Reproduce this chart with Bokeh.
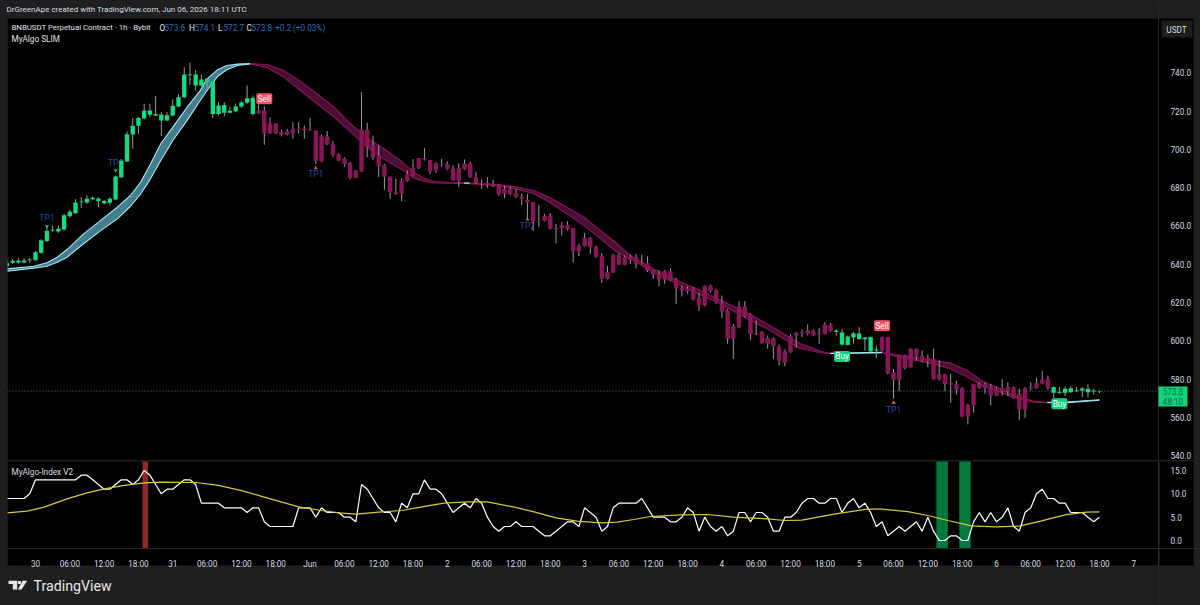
from bokeh.plotting import figure
from bokeh.layouts import column
from bokeh.models import (Range1d, Label, BoxAnnotation, PolyAnnotation, FixedTicker, LinearAxis)
from bokeh.core.properties import value
from bokeh.embed import file_html
from bokeh.resources import INLINE

FONT = "Roboto"
hours = list(range(-5, 187))
body_hi = [640.8,641.8,641.8,642.0,642.5,646.3,652.6,657.5,658.0,658.5,665.6,667.4,672.3,672.8,674.2,674.7,674.3,673.1,674.2,685.8,
694.0,707.9,712.3,716.3,720.1,720.3,718.4,718.2,717.8,722.7,727.2,739.1,739.1,739.1,736.5,736.8,735.4,722.9,723.1,720.1,
722.4,724.5,726.7,726.9,720.3,720.3,713.5,713.5,709.0,709.3,710.5,710.7,710.7,710.2,709.8,706.7,706.7,702.7,697.5,695.2,
692.8,688.8,710.2,710.2,702.0,696.8,691.9,685.8,677.6,683.7,687.0,690.2,695.4,695.4,694.5,692.8,692.6,692.4,689.7,690.2,
692.6,692.8,685.5,682.3,682.3,682.0,681.5,679.4,679.6,677.1,675.4,673.6,672.4,662.9,665.3,665.3,658.9,660.4,660.6,658.9,
649.6,653.8,653.8,649.3,644.2,635.9,644.9,644.9,643.7,643.9,643.7,640.8,640.6,636.8,634.7,636.4,636.4,632.1,627.7,627.4,
627.2,622.3,628.8,628.9,626.5,619.9,615.9,607.5,618.0,618.0,613.8,604.0,604.6,601.4,601.4,597.1,594.5,602.5,604.2,604.6,
605.4,605.4,604.0,608.6,608.6,605.4,604.4,602.3,603.9,603.9,601.8,602.0,595.5,602.0,602.0,583.5,592.7,592.7,595.9,595.9,
592.2,591.0,590.6,582.5,582.6,578.1,577.3,575.2,566.6,577.6,577.3,577.3,576.2,575.3,575.5,575.9,575.9,572.4,575.3,575.9,
578.1,579.9,580.0,575.9,573.4,575.0,575.3,574.1,575.2,575.0,574.1,573.8]
body_lo = [639.0,640.8,640.9,640.9,642.1,642.1,646.0,652.2,657.6,657.1,658.2,665.1,666.7,672.4,672.3,674.0,673.0,671.9,672.1,673.8,
685.5,693.7,707.7,712.3,716.1,718.0,717.7,715.0,715.0,717.7,722.4,727.2,738.7,733.3,733.3,735.2,718.5,718.5,719.1,719.1,
719.9,722.4,724.3,718.5,718.9,708.4,708.4,708.4,707.6,707.6,708.4,710.4,709.8,709.8,693.8,693.8,702.5,697.1,694.2,692.4,
685.1,685.1,688.4,701.1,695.9,691.2,685.7,677.6,676.6,676.8,683.4,686.4,690.2,694.7,688.4,689.0,692.1,689.7,683.7,683.6,
689.8,685.5,682.5,682.0,681.5,681.3,676.4,676.8,676.8,675.2,674.2,672.3,662.5,662.4,662.7,658.5,658.3,658.9,658.3,647.0,
646.8,649.5,649.1,643.9,632.4,632.4,635.5,639.9,639.7,642.5,639.9,640.4,636.8,634.7,632.1,632.1,631.5,627.4,626.3,626.0,
621.6,618.5,618.5,626.0,620.1,615.4,601.1,601.1,607.2,612.9,603.4,603.4,598.8,598.5,597.3,589.8,588.6,594.1,602.8,604.2,
603.7,602.8,603.4,603.7,605.1,604.7,598.1,597.9,601.8,600.9,600.9,594.5,595.0,595.0,583.2,579.7,579.7,585.8,586.3,591.9,
589.3,589.4,580.0,579.9,577.6,577.3,574.6,560.5,560.5,566.3,575.5,575.5,571.5,571.5,573.9,573.9,570.1,564.2,564.2,575.2,
575.3,577.8,575.3,572.9,572.9,572.9,573.2,573.8,574.1,573.2,573.6,573.6]
wick_hi = [642.8,642.7,643.2,643.2,643.2,646.9,653.1,659.4,660.2,660.2,666.3,668.4,674.0,675.0,676.0,675.4,675.0,673.6,675.0,686.3,
694.9,709.5,716.4,716.8,723.8,723.8,727.8,719.4,719.4,726.2,728.6,742.9,745.3,741.5,739.1,737.3,735.4,724.6,724.6,722.4,
723.8,725.2,733.3,728.1,723.8,722.4,716.8,713.7,710.2,710.7,714.2,714.2,712.4,716.4,709.8,707.8,709.5,704.3,698.0,695.9,
693.5,689.3,729.9,713.8,707.2,702.0,692.4,685.8,684.6,685.1,689.0,694.9,695.4,700.8,694.5,693.3,695.0,693.7,691.6,692.8,
694.7,693.7,688.1,684.3,685.5,684.1,682.0,680.8,680.6,679.4,676.8,676.8,672.4,671.0,666.3,666.7,661.1,662.0,662.5,658.9,
650.7,656.4,654.2,649.8,645.8,639.2,645.5,645.8,644.6,645.1,645.5,645.1,644.1,637.1,636.8,637.1,638.1,632.9,628.8,628.4,
628.1,625.1,628.9,629.4,627.2,623.7,616.7,608.9,620.8,620.8,614.5,610.7,605.1,602.8,601.9,598.1,595.5,603.7,604.6,606.0,
608.6,606.0,606.7,609.8,609.4,606.1,606.1,602.8,604.6,607.2,602.0,602.3,597.4,602.3,602.0,585.4,592.9,592.9,596.2,596.2,
595.0,592.9,595.9,589.8,582.8,582.8,579.3,575.9,567.2,577.6,578.4,578.4,577.6,576.2,579.9,578.4,576.2,575.0,575.9,578.4,
580.7,584.2,581.9,576.2,575.9,576.2,576.4,575.9,575.9,577.3,575.0,574.1]
wick_lo = [638.5,640.2,640.4,640.6,640.8,642.0,645.5,651.5,656.8,656.4,657.6,664.2,666.3,669.3,671.6,673.6,669.8,671.2,670.7,673.6,
685.0,693.5,700.3,708.1,715.7,716.8,717.2,706.9,714.7,717.3,722.0,726.9,733.7,730.7,732.8,731.8,716.4,717.7,717.2,718.9,
719.4,721.7,723.8,717.7,718.5,702.4,708.1,708.1,706.7,707.2,705.5,708.4,705.5,709.8,692.4,693.3,702.2,695.9,693.8,690.7,
684.3,684.9,688.1,695.9,694.5,685.5,678.9,674.2,676.3,673.0,682.9,685.8,689.7,694.2,687.0,687.7,691.0,689.3,683.4,680.3,
689.3,685.1,682.0,679.4,679.9,680.3,675.6,674.5,676.1,674.5,671.0,663.7,657.3,659.7,662.3,658.2,651.0,655.0,657.6,641.1,
644.2,649.3,645.5,643.4,630.3,632.1,635.4,639.5,639.4,640.2,637.8,639.9,635.9,632.4,628.6,629.8,631.2,619.2,623.2,624.6,
621.1,615.5,618.0,625.1,619.4,612.0,598.5,590.6,606.8,612.4,600.6,603.0,598.5,595.9,590.6,587.2,586.8,593.6,596.4,602.0,
602.8,602.5,598.5,603.4,604.6,602.8,597.6,597.6,598.5,600.6,595.0,594.1,591.0,594.5,582.5,569.8,573.8,585.1,586.0,589.8,
588.7,586.3,579.7,579.3,573.8,567.7,572.0,560.2,556.4,562.5,575.0,572.4,566.3,571.2,571.5,571.2,569.8,558.8,559.9,574.1,
575.0,577.4,574.5,570.3,572.4,571.2,572.9,573.2,570.6,570.6,572.0,572.7]
up_trend_ranges = [(-5, 38), (140, 147), (178, 186)]

band_h = [-5,-0.3,2,3.8,5.5,8.4,11.4,14.3,16.6,18.4,20.1,21.9,24.2,26.5,28.8,30,31.8,33.5,35.3,37.6,
40.5,43.4,46.3,49.2,52.2,55.1,58,60.9,63.8,65,66.1,67.9,69.6,72.6,74.9,78.4,81.3,84.2,87.1,90,
92.9,95.9,98.8,101.7,104,107.5,110.4,113.3,116.3,119.2,122.1,125,127.9,130.8,133.7,135.5,137.2,138.9,148,151.2,
154.1,157,160,162.9,165.8,168.7,171,174.5,176.9,180.4,186]
band_upper = [637.6,639.0,640.8,643.7,647.7,655.9,662.9,669.8,675.9,682.9,692.4,702.9,712.4,722.0,730.7,736.8,741.5,743.8,744.5,744.8,
744.3,741.2,735.6,729.0,722.0,713.3,706.0,700.3,694.2,691.0,688.1,685.1,683.2,682.7,682.5,682.0,681.5,680.3,678.5,674.7,
669.8,664.6,657.6,650.7,644.6,638.5,634.2,630.1,626.3,622.0,618.0,613.8,608.9,603.7,598.5,596.7,594.6,593.6,594.0,592.4,
591.2,589.8,588.4,584.6,578.5,575.0,571.5,568.6,567.9,568.1,569.3]
band_lower = [636.4,638.0,639.0,641.1,643.7,650.7,657.6,663.7,670.3,676.8,684.6,694.2,705.5,715.1,725.5,730.7,738.0,741.7,743.8,744.6,
742.6,737.7,730.7,723.8,716.8,709.0,701.1,695.0,689.8,687.6,685.1,683.4,682.5,682.3,682.2,681.6,680.8,679.2,676.8,672.1,
666.3,660.2,653.3,646.3,642.9,636.8,632.4,628.1,624.0,620.2,615.5,610.7,606.3,601.1,595.9,595.0,593.8,593.4,593.8,591.2,
589.8,588.0,585.4,581.1,576.2,573.2,570.6,568.0,567.7,567.8,569.0]
band_segments = [(-5, 37.6, "bull"), (37.6, 138.9, "bear"), (138.9, 148, "bull"), (148, 176.9, "bear"), (176.9, 186, "bull")]
flip_h = [74.9, 75.9]
flip_p = [682.4, 682.4]

tp_h = [2, 14, 49, 86, 150]
tp_p = [664.2, 692.8, 686.9, 660.1, 564.2]
tp_text = ["TP1", "TP1", "TP1", "TP2", "TP1"]
mark_dn_h = [2, 14]
mark_dn_p = [659.9, 689.0]
mark_up_h = [49, 86, 150]
mark_up_p = [690.2, 663.4, 567.7]
sell_h = [40, 148]
sell_p = [726.4, 607.9]
buy_h = [141, 179]
buy_p = [591.9, 567.2]
last_close = 573.8

idx_h = hours
idx_white = [9,9,9,9,10,13,13,13,13,13,13,13,13,14,14,13,12,11,11,12,
13,13,12,13,15,14,12,10,11,11,12,13,13,12,8,8,8,8,7,7,
7,7,6,7,7,4,3,3,3,3,3,7,7,7,5,7,6,6,6,5,
5,4,12,11,9,7,6,6,4,8,7,10,10,13,11,11,10,8,6,7,
8,7,9,8,5,3,2,3,3,4,3,3,3,2,1,1,2,3,4,4,
3,7,6,5,2,3,7,8,8,8,8,9,7,5,5,5,4,4,5,7,
6,2,5,3,2,3,1,2,6,6,4,6,6,5,2,2,5,5,6,8,
9,9,8,8,9,9,6,8,9,7,8,6,3,4,1,2,3,2,3,4,
2,5,2,0,0,1,1,0,0,4,6,4,6,4,5,7,3,2,6,7,
10,11,9,9,8,8,6,6,6,5,4,5]
sma_h = [-5,-1.5,1.5,5.5,9,12,15.5,19,22,28,32,36,40,46,50,53,56,60,64,67.3,
71.4,75.5,79,83.7,87,91,94.7,98.8,101.7,104.6,107.5,113,117.5,122,128,131,134,139.6,145.4,148,
152.5,156,159.5,163.6,168,172,175.7,180,183.7,186]
sma_v = [5.93,6.29,7.14,8.93,10.2,11.07,11.8,12.36,12.5,12.43,11.8,10.7,9.3,7.2,6.43,5.93,5.64,6.07,6.43,7.14,
8.0,8.29,8.29,7.14,6.2,4.86,4.14,3.79,3.93,4.5,5.14,5.5,5.57,5.0,4.64,4.29,4.36,5.64,6.71,6.71,
6.2,5.36,4.29,3.14,2.93,3.07,4.14,5.5,6.07,6.14]
oversold_h = [158, 159, 162, 163]
overbought_h = [19.2]

day_ticks = list(range(0, 193, 6))
names = {0: "30", 24: "31", 48: "Jun", 72: "2", 96: "3", 120: "4", 144: "5", 168: "6", 192: "7"}
time_labels = {t: names.get(t, f"{t % 24:02d}:00") for t in day_ticks}
price_ticks = list(range(540, 741, 20))
index_ticks = [0, 5, 10, 15]

PAGE = "#1f1f1f"
GREEN = "#12dd80"
PURPLE = "#8c1558"
WICK = "#9b9b9b"
AXIS_TXT = "#d9dce3"
LINE = "#2a2a2a"
SMALL = "8.2px"
x_rng = Range1d((0 - 35) / 5.72, (1200 - 35) / 5.72)
PRICE_AXIS_H = (1158 - 35) / 5.72


def make(h, top, bot):
    f = figure(width=1200, height=h, x_range=x_rng, y_range=Range1d(bot, top), output_backend="svg",
               toolbar_location=None, x_axis_location=None, y_axis_location=None,
               min_border_left=0, min_border_right=0, min_border_top=0, min_border_bottom=0,
               background_fill_color=PAGE, border_fill_color=PAGE, outline_line_color=None)
    f.grid.visible = False
    return f


def ptext(fig, bottom, X, Y, txt, color=AXIS_TXT, size=SMALL, align="left", level="annotation", **kw):
    fig.add_layout(Label(x=X, y=bottom - Y, x_units="screen", y_units="screen", text=txt,
                         text_color=color, text_font=FONT, text_font_size=size, level=level,
                         text_align=align, text_baseline="middle", **kw))


def sbox(fig, bottom, L, R, T, B, color, level="underlay"):
    fig.add_layout(BoxAnnotation(left=L, right=R, top=bottom - T, bottom=bottom - B,
                                 left_units="screen", right_units="screen", top_units="screen",
                                 bottom_units="screen", fill_color=color, fill_alpha=1.0,
                                 line_color=None, level=level, editable=False))


def val_axis(ticks, fixed):
    return LinearAxis(ticker=FixedTicker(ticks=ticks), major_label_overrides={t: f"{t:.1f}" for t in ticks},
                      fixed_location=fixed, major_tick_line_color=None, minor_tick_line_color=None,
                      axis_line_color=LINE, major_label_text_color=AXIS_TXT, major_label_text_font=FONT,
                      major_label_text_font_size=SMALL, major_label_standoff=6)


# ---------- main pane: canvas y 0..460
B1 = 460
p1 = make(B1, 777.7, 777.7 - 0.174 * 1380)
sbox(p1, B1, 7, 1193, 18, 460, "#000000")
p1.add_layout(val_axis(price_ticks, PRICE_AXIS_H), "right")

for a, b, side in band_segments:
    idx = [i for i, t in enumerate(band_h) if a <= t <= b]
    xs = [band_h[i] for i in idx]
    up = [band_upper[i] for i in idx]
    lo = [band_lower[i] for i in idx]
    fill, ln = ("#447d8e", "#a3e8f2") if side == "bull" else ("#4b0f36", "#8c1558")
    p1.varea(x=xs, y1=lo, y2=up, fill_color=fill)
    p1.line(xs, up, line_color=ln, line_width=1.1)
    p1.line(xs, lo, line_color=ln, line_width=1.1)
p1.line(flip_h, flip_p, line_color="#a3e8f2", line_width=1.3)
p1.line([x_rng.start, PRICE_AXIS_H], [last_close, last_close], line_color="#2f8f66", line_dash="1 2", line_width=1)

p1.text(tp_h, tp_p, text=tp_text, text_color="#2347ad", text_font=value(FONT), text_font_size="8.5px",
        text_align="center", text_baseline="middle")
p1.scatter(mark_dn_h, mark_dn_p, marker="inverted_triangle", size=4, color="#20b070", line_color=None)
p1.scatter(mark_up_h, mark_up_p, marker="triangle", size=4, color="#f7525f", line_color=None)

colors = [GREEN if any(a <= t <= b for a, b in up_trend_ranges) else PURPLE for t in hours]
p1.segment(hours, wick_lo, hours, wick_hi, line_color=WICK, line_width=1)
p1.vbar(x=hours, width=0.76, bottom=body_lo, top=body_hi, fill_color=colors, line_color=None)

for hs, ps, col, txt in ((sell_h, sell_p, "#f7525f", "Sell"), (buy_h, buy_p, "#10d47c", "Buy")):
    p1.quad(left=[t - 1.4 for t in hs], right=[t + 1.4 for t in hs], bottom=[v - 2.9 for v in ps],
            top=[v + 2.9 for v in ps], fill_color=col, line_color=None, border_radius=2)
    p1.text(hs, ps, text=[txt] * len(hs), text_color="#ffffff", text_font=value(FONT),
            text_font_size=SMALL, text_align="center", text_baseline="middle")

sbox(p1, B1, 0, 7, 0, 460, PAGE, level="annotation")
TXT = "#e0e3ea"
ptext(p1, B1, 6, 9, "DrGreenApe created with TradingView.com, Jun 06, 2026 18:11 UTC", size="8px")
ptext(p1, B1, 11, 27, "BNBUSDT Perpetual Contract · 1h · Bybit", color=TXT, size="7.8px")
BLUE = "#2a6fb8"
for X, t, c in ((159, "O", TXT), (164, "573.6", BLUE), (188.5, "H", TXT), (194, "574.1", BLUE),
                (217.5, "L", TXT), (223, "572.7", BLUE), (246, "C", TXT), (251, "573.8", BLUE),
                (274.5, "+0.2 (+0.03%)", BLUE)):
    ptext(p1, B1, X, 27, t, color=c)
ptext(p1, B1, 11, 38, "MyAlgo SLIM", color=TXT)

sbox(p1, B1, 1161, 1192, 20, 37, "#1d1d1d", level="annotation")
ptext(p1, B1, 1176, 29, "USDT", color="#d8dbe2", align="center")
sbox(p1, B1, 1158, 1187, 386, 406, "#10d47c", level="annotation")
ptext(p1, B1, 1172.5, 391, "573.8", color="#0b6a3c", align="center")
ptext(p1, B1, 1172.5, 401, "48:10", color="#0b6a3c", align="center")

# ---------- index pane: canvas y 460..605
B2 = 145
p2 = make(B2, (540 - 460) / 4.667, (540 - 605) / 4.667)
sbox(p2, B2, 7, 1193, 1, 105, "#000000")
BASE_V = (540 - 548) / 4.667
TOP_V = (540 - 461) / 4.667
p2.add_layout(val_axis(index_ticks, PRICE_AXIS_H), "right")

p2.vbar(x=oversold_h, width=1.0, bottom=BASE_V, top=TOP_V, fill_color="#047a3f", line_color=None)
p2.vbar(x=overbought_h, width=1.0, bottom=BASE_V, top=TOP_V, fill_color="#8a2b2b", line_color=None)
p2.line(idx_h, idx_white, line_color="#ffffff", line_width=1.2)
p2.line(sma_h, sma_v, line_color="#d9c83a", line_width=1.2)

ax = LinearAxis(ticker=FixedTicker(ticks=day_ticks), major_label_overrides=time_labels, fixed_location=BASE_V,
                major_tick_line_color=None, minor_tick_line_color=None, axis_line_color=LINE,
                major_label_text_color=AXIS_TXT, major_label_text_font=FONT,
                major_label_text_font_size=SMALL, major_label_standoff=4)
p2.add_layout(ax, "below")

sbox(p2, B2, 0, 7, 0, 145, PAGE, level="annotation")
sbox(p2, B2, 1158, 1159, 1, 105, LINE, level="annotation")
ptext(p2, B2, 11, 11, "MyAlgo-Index V2", color="#d8dbe2")

LOGO = "#e6e6e6"
for xs, ys in (([8, 16.7, 16.7, 12.3, 12.3, 8], [120.3, 120.3, 129, 129, 123.6, 123.6]),
               ([22, 26.7, 21, 17.3], [120.3, 120.3, 129, 129])):
    p2.add_layout(PolyAnnotation(xs=xs, ys=[B2 - v for v in ys], xs_units="screen", ys_units="screen",
                                 fill_color=LOGO, fill_alpha=1, line_color=None, level="annotation", editable=False))
sbox(p2, B2, 17.3, 20.3, 120.5, 123.6, LOGO, level="annotation")
ptext(p2, B2, 33, 125.5, "TradingView", color="#e6e6e6", size="14.2px")

page = column(p1, p2, spacing=0)
html = file_html(page, INLINE)
html = html.replace("</head>", "<style>html,body{margin:0;padding:0;background:%s;overflow:hidden}</style></head>" % PAGE, 1)
open("out.html", "w").write(html)
